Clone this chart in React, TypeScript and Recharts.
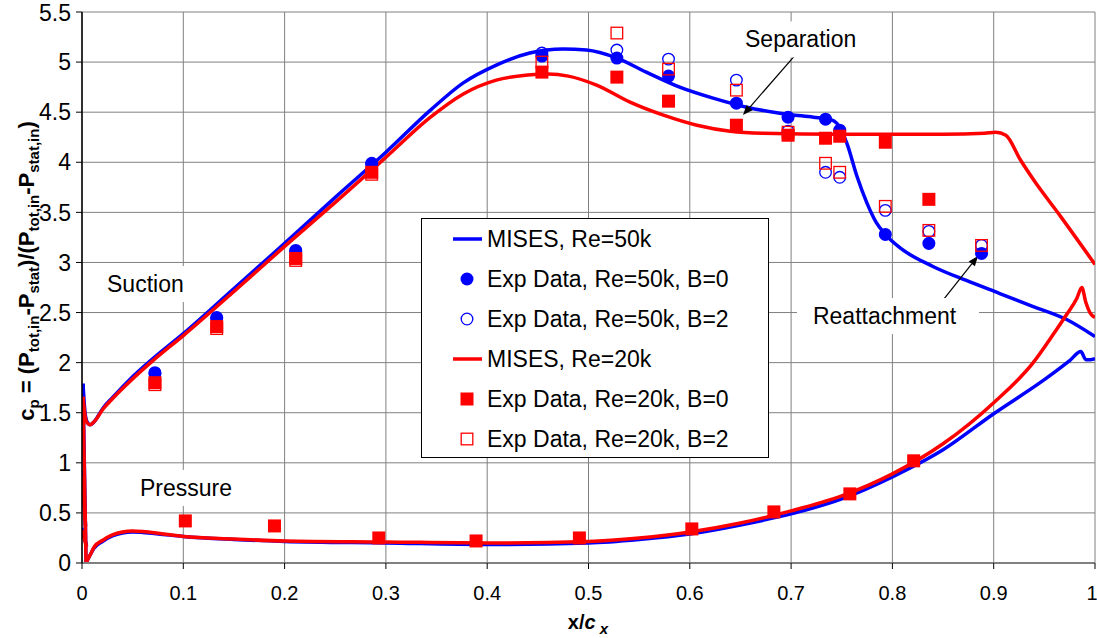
import React from 'react';
import {
  ComposedChart,
  Line,
  Scatter,
  XAxis,
  YAxis,
  CartesianGrid,
  Legend,
  ReferenceDot,
  ReferenceLine,
} from 'recharts';

const FONT = "'Liberation Sans', Arial, sans-serif";
const BLUE = '#0000ff';
const RED = '#ff0000';

const xTicks = [0, 0.1, 0.2, 0.3, 0.4, 0.5, 0.6, 0.7, 0.8, 0.9, 1];
const yTicks = [0, 0.5, 1, 1.5, 2, 2.5, 3, 3.5, 4, 4.5, 5, 5.5];

// MISES, Re=50k
const mises50kSuction = [
  { x: 0.001, y: 1.79 }, { x: 0.003, y: 1.5 }, { x: 0.005, y: 1.41 }, { x: 0.008, y: 1.38 },
  { x: 0.012, y: 1.41 }, { x: 0.021, y: 1.55 }, { x: 0.03, y: 1.65 }, { x: 0.047, y: 1.83 },
  { x: 0.07, y: 2.04 }, { x: 0.1, y: 2.29 }, { x: 0.15, y: 2.74 }, { x: 0.2, y: 3.19 },
  { x: 0.25, y: 3.65 }, { x: 0.3, y: 4.1 }, { x: 0.344, y: 4.52 }, { x: 0.376, y: 4.79 },
  { x: 0.409, y: 4.97 }, { x: 0.442, y: 5.09 }, { x: 0.475, y: 5.13 }, { x: 0.498, y: 5.12 },
  { x: 0.528, y: 5.04 }, { x: 0.557, y: 4.9 }, { x: 0.59, y: 4.75 }, { x: 0.623, y: 4.64 },
  { x: 0.656, y: 4.55 }, { x: 0.689, y: 4.49 }, { x: 0.722, y: 4.45 }, { x: 0.738, y: 4.43 },
  { x: 0.745, y: 4.39 }, { x: 0.75, y: 4.31 }, { x: 0.755, y: 4.19 }, { x: 0.765, y: 3.86 },
  { x: 0.775, y: 3.59 }, { x: 0.784, y: 3.4 }, { x: 0.793, y: 3.28 }, { x: 0.807, y: 3.15 },
  { x: 0.84, y: 2.96 }, { x: 0.873, y: 2.82 }, { x: 0.906, y: 2.69 }, { x: 0.939, y: 2.56 },
  { x: 0.972, y: 2.43 }, { x: 1.0, y: 2.26 },
];
const mises50kPressure = [
  { x: 0.004, y: 0.0 }, { x: 0.008, y: 0.08 }, { x: 0.012, y: 0.15 }, { x: 0.021, y: 0.22 },
  { x: 0.03, y: 0.27 }, { x: 0.04, y: 0.3 }, { x: 0.05, y: 0.31 }, { x: 0.06, y: 0.305 },
  { x: 0.08, y: 0.285 }, { x: 0.1, y: 0.265 }, { x: 0.15, y: 0.235 }, { x: 0.2, y: 0.215 },
  { x: 0.3, y: 0.2 }, { x: 0.4, y: 0.185 }, { x: 0.5, y: 0.2 }, { x: 0.55, y: 0.235 },
  { x: 0.6, y: 0.29 }, { x: 0.65, y: 0.38 }, { x: 0.7, y: 0.49 }, { x: 0.75, y: 0.64 },
  { x: 0.8, y: 0.86 }, { x: 0.85, y: 1.13 }, { x: 0.9, y: 1.49 }, { x: 0.95, y: 1.83 },
  { x: 0.975, y: 2.02 }, { x: 0.986, y: 2.11 }, { x: 0.991, y: 2.03 }, { x: 0.995, y: 2.03 },
  { x: 1.0, y: 2.04 },
];
const mises50kNose = [{ x: 0.001, y: 1.79 }, { x: 0.004, y: 0.0 }];
const mises50kNoseUpper = [{ x: 0.0, y: 0.92 }, { x: 0.002, y: 0.63 }, { x: 0.0035, y: 0.37 }];
const mises50kNoseLower = [{ x: 0.0, y: 0.35 }, { x: 0.0045, y: 0.17 }];

// MISES, Re=20k
const mises20kSuction = [
  { x: 0.001, y: 1.66 }, { x: 0.003, y: 1.47 }, { x: 0.005, y: 1.4 }, { x: 0.008, y: 1.38 },
  { x: 0.012, y: 1.41 }, { x: 0.021, y: 1.54 }, { x: 0.03, y: 1.64 }, { x: 0.047, y: 1.81 },
  { x: 0.07, y: 2.02 }, { x: 0.1, y: 2.27 }, { x: 0.15, y: 2.71 }, { x: 0.2, y: 3.16 },
  { x: 0.25, y: 3.6 }, { x: 0.3, y: 4.05 }, { x: 0.344, y: 4.45 }, { x: 0.376, y: 4.68 },
  { x: 0.409, y: 4.82 }, { x: 0.44, y: 4.87 }, { x: 0.46, y: 4.88 }, { x: 0.48, y: 4.86 },
  { x: 0.508, y: 4.77 }, { x: 0.541, y: 4.6 }, { x: 0.574, y: 4.47 }, { x: 0.607, y: 4.37 },
  { x: 0.64, y: 4.31 }, { x: 0.672, y: 4.29 }, { x: 0.75, y: 4.28 }, { x: 0.85, y: 4.28 },
  { x: 0.891, y: 4.29 }, { x: 0.902, y: 4.3 }, { x: 0.912, y: 4.27 }, { x: 0.926, y: 4.03 },
  { x: 0.939, y: 3.83 }, { x: 0.966, y: 3.46 }, { x: 1.0, y: 2.98 },
];
const mises20kPressure = [
  { x: 0.004, y: 0.0 }, { x: 0.008, y: 0.08 }, { x: 0.012, y: 0.16 }, { x: 0.021, y: 0.23 },
  { x: 0.03, y: 0.28 }, { x: 0.04, y: 0.31 }, { x: 0.05, y: 0.32 }, { x: 0.06, y: 0.315 },
  { x: 0.08, y: 0.29 }, { x: 0.1, y: 0.265 }, { x: 0.15, y: 0.24 }, { x: 0.2, y: 0.22 },
  { x: 0.3, y: 0.21 }, { x: 0.4, y: 0.2 }, { x: 0.5, y: 0.215 }, { x: 0.55, y: 0.25 },
  { x: 0.6, y: 0.31 }, { x: 0.65, y: 0.4 }, { x: 0.7, y: 0.52 }, { x: 0.75, y: 0.67 },
  { x: 0.8, y: 0.89 }, { x: 0.85, y: 1.19 }, { x: 0.9, y: 1.6 }, { x: 0.939, y: 2.0 },
  { x: 0.96, y: 2.3 }, { x: 0.972, y: 2.48 }, { x: 0.982, y: 2.64 }, { x: 0.987, y: 2.75 },
  { x: 0.991, y: 2.6 }, { x: 0.995, y: 2.5 }, { x: 1.0, y: 2.45 },
];
const mises20kNose = [{ x: 0.001, y: 1.66 }, { x: 0.004, y: 0.0 }];
const mises20kNoseUpper = [{ x: 0.0, y: 0.86 }, { x: 0.002, y: 0.6 }, { x: 0.0035, y: 0.36 }];
const mises20kNoseLower = [{ x: 0.0, y: 0.33 }, { x: 0.0045, y: 0.16 }];

// Experimental data
const exp50kB0 = [
  { x: 0.072, y: 1.9 }, { x: 0.133, y: 2.45 }, { x: 0.211, y: 3.12 }, { x: 0.286, y: 3.99 },
  { x: 0.454, y: 5.06 }, { x: 0.528, y: 5.04 }, { x: 0.579, y: 4.86 }, { x: 0.646, y: 4.59 },
  { x: 0.697, y: 4.45 }, { x: 0.734, y: 4.43 }, { x: 0.748, y: 4.32 }, { x: 0.793, y: 3.28 },
  { x: 0.836, y: 3.19 }, { x: 0.888, y: 3.09 },
];
const exp50kB2 = [
  { x: 0.072, y: 1.89 }, { x: 0.133, y: 2.44 }, { x: 0.211, y: 3.11 }, { x: 0.286, y: 3.98 },
  { x: 0.454, y: 5.09 }, { x: 0.528, y: 5.12 }, { x: 0.579, y: 5.03 }, { x: 0.646, y: 4.82 },
  { x: 0.697, y: 4.31 }, { x: 0.734, y: 3.9 }, { x: 0.748, y: 3.85 }, { x: 0.793, y: 3.52 },
  { x: 0.836, y: 3.31 }, { x: 0.888, y: 3.17 },
];
const exp20kB0 = [
  { x: 0.072, y: 1.8 }, { x: 0.133, y: 2.36 }, { x: 0.211, y: 3.04 }, { x: 0.286, y: 3.9 },
  { x: 0.454, y: 4.9 }, { x: 0.528, y: 4.85 }, { x: 0.579, y: 4.61 }, { x: 0.646, y: 4.37 },
  { x: 0.697, y: 4.27 }, { x: 0.734, y: 4.24 }, { x: 0.748, y: 4.26 }, { x: 0.793, y: 4.2 },
  { x: 0.836, y: 3.63 },
  { x: 0.102, y: 0.42 }, { x: 0.19, y: 0.37 }, { x: 0.293, y: 0.25 }, { x: 0.389, y: 0.22 },
  { x: 0.491, y: 0.25 }, { x: 0.602, y: 0.34 }, { x: 0.683, y: 0.51 }, { x: 0.758, y: 0.69 },
  { x: 0.821, y: 1.02 },
];
const exp20kB2 = [
  { x: 0.072, y: 1.78 }, { x: 0.133, y: 2.34 }, { x: 0.211, y: 3.02 }, { x: 0.286, y: 3.88 },
  { x: 0.454, y: 5.0 }, { x: 0.528, y: 5.29 }, { x: 0.579, y: 4.93 }, { x: 0.646, y: 4.72 },
  { x: 0.697, y: 4.3 }, { x: 0.734, y: 3.99 }, { x: 0.748, y: 3.9 }, { x: 0.793, y: 3.56 },
  { x: 0.836, y: 3.32 }, { x: 0.888, y: 3.17 },
];

// Annotations (data coordinates)
const annotations = [
  { text: 'Suction', x: 0.0247, y: 2.785, w: 80 },
  { text: 'Pressure', x: 0.0573, y: 0.75, w: 96 },
  { text: 'Separation', x: 0.6545, y: 5.226, w: 115 },
  { text: 'Reattachment', x: 0.7216, y: 2.465, w: 150 },
];
const arrows = [
  { from: { x: 0.7058, y: 5.09 }, to: { x: 0.6525, y: 4.471 } },
  { from: { x: 0.85, y: 2.625 }, to: { x: 0.8845, y: 3.064 } },
];

const legendItems = [
  { label: 'MISES, Re=50k', kind: 'line', color: BLUE },
  { label: 'Exp Data, Re=50k, B=0', kind: 'filledCircle', color: BLUE },
  { label: 'Exp Data, Re=50k, B=2', kind: 'openCircle', color: BLUE },
  { label: 'MISES, Re=20k', kind: 'line', color: RED },
  { label: 'Exp Data, Re=20k, B=0', kind: 'filledSquare', color: RED },
  { label: 'Exp Data, Re=20k, B=2', kind: 'openSquare', color: RED },
];

const FilledCircle = (p: any) => <circle cx={p.cx} cy={p.cy} r={6.5} fill={BLUE} />;
const OpenCircle = (p: any) => (
  <circle cx={p.cx} cy={p.cy} r={5.8} fill="none" stroke={BLUE} strokeWidth={1.3} />
);
const FilledSquare = (p: any) => (
  <rect x={p.cx - 6.5} y={p.cy - 6.5} width={13} height={13} fill={RED} />
);
const OpenSquare = (p: any) => (
  <rect x={p.cx - 5.8} y={p.cy - 5.8} width={11.6} height={11.6} fill="none" stroke={RED} strokeWidth={1.3} />
);

const LegendIcon = ({ kind, color }: { kind: string; color: string }) => {
  const cx = 45;
  const cy = 20;
  if (kind === 'line') return <line x1={31} y1={cy} x2={60} y2={cy} stroke={color} strokeWidth={3.5} />;
  if (kind === 'filledCircle') return <FilledCircle cx={cx} cy={cy} />;
  if (kind === 'openCircle') return <OpenCircle cx={cx} cy={cy} />;
  if (kind === 'filledSquare') return <FilledSquare cx={cx} cy={cy} />;
  return <OpenSquare cx={cx} cy={cy} />;
};

const LegendBox = () => (
  <div
    style={{
      width: 348,
      height: 240,
      border: '1px solid #000',
      background: '#fff',
      boxSizing: 'border-box',
      fontFamily: FONT,
      fontSize: 23,
      color: '#000',
    }}
  >
    {legendItems.map((it, i) => (
      <div key={i} style={{ height: 40, display: 'flex', alignItems: 'center' }}>
        <svg width={65} height={40} style={{ flex: 'none', display: 'block' }}>
          <LegendIcon kind={it.kind} color={it.color} />
        </svg>
        <span style={{ lineHeight: '40px', whiteSpace: 'nowrap' }}>{it.label}</span>
      </div>
    ))}
  </div>
);

const SUB = 15;
const YTitle = () => (
  <text
    x={0}
    y={0}
    transform="translate(34,271) rotate(-90)"
    textAnchor="middle"
    fontFamily={FONT}
    fontWeight="bold"
    fontSize={22}
    fill="#000"
  >
    c
    <tspan dy={5} fontSize={SUB}>p</tspan>
    <tspan dy={-5}>{' = (P'}</tspan>
    <tspan dy={5} fontSize={SUB}>tot,in</tspan>
    <tspan dy={-5}>-P</tspan>
    <tspan dy={5} fontSize={SUB}>stat</tspan>
    <tspan dy={-5}>)/(P</tspan>
    <tspan dy={5} fontSize={SUB}>tot,in</tspan>
    <tspan dy={-5}>-P</tspan>
    <tspan dy={5} fontSize={SUB}>stat,in</tspan>
    <tspan dy={-5}>)</tspan>
  </text>
);

const XTitle = () => (
  <text x={588} y={629} textAnchor="middle" fontFamily={FONT} fontWeight="bold" fontSize={20} fill="#000">
    x/
    <tspan fontStyle="italic">c</tspan>
    <tspan dy={5} fontSize={SUB} fontStyle="italic">{' x'}</tspan>
  </text>
);

const AnnotationShape = ({ cx, cy, text, w }: any) => (
  <g>
    <rect x={cx - 16} y={cy - 18} width={w + 32} height={36} fill="#fff" />
    <text x={cx} y={cy} dy="0.35em" fontFamily={FONT} fontSize={23} fill="#000">
      {text}
    </text>
  </g>
);

const ArrowShape = (p: any) => {
  const { x1, y1, x2, y2 } = p;
  const ang = Math.atan2(y2 - y1, x2 - x1);
  const len = 10;
  const half = 4;
  const bx = x2 - len * Math.cos(ang);
  const by = y2 - len * Math.sin(ang);
  const px = -Math.sin(ang) * half;
  const py = Math.cos(ang) * half;
  return (
    <g>
      <line x1={x1} y1={y1} x2={bx} y2={by} stroke="#000" strokeWidth={1.2} />
      <polygon points={`${x2},${y2} ${bx + px},${by + py} ${bx - px},${by - py}`} fill="#000" />
    </g>
  );
};

const lineCommon = {
  dataKey: 'y',
  dot: false,
  activeDot: false,
  isAnimationActive: false,
  strokeWidth: 3.5,
  legendType: 'none' as const,
};

export default function App() {
  return (
    <div style={{ position: 'absolute', left: 0, top: 0, background: '#fff' }}>
      <ComposedChart width={1097} height={638} margin={{ top: 12, right: 2, bottom: 0, left: 0 }}>
        <CartesianGrid stroke="#808080" strokeWidth={1} />
        <XAxis
          dataKey="x"
          type="number"
          domain={[0, 1]}
          ticks={xTicks}
          allowDataOverflow
          height={75}
          tickSize={6}
          tickMargin={17}
          tick={{ fill: '#000', fontSize: 20, fontFamily: FONT }}
          tickLine={{ stroke: '#000' }}
          axisLine={{ stroke: '#808080', strokeWidth: 2 }}
          tickFormatter={(v: number) => String(v)}
          label={{ content: () => <XTitle /> }}
        />
        <YAxis
          dataKey="y"
          type="number"
          domain={[0, 5.5]}
          ticks={yTicks}
          allowDataOverflow
          width={82}
          tickSize={6}
          tickMargin={5}
          tick={{ fill: '#000', fontSize: 23, fontFamily: FONT }}
          tickLine={{ stroke: '#000' }}
          axisLine={{ stroke: '#000', strokeWidth: 1.5 }}
          tickFormatter={(v: number) => String(v)}
          label={{ content: () => <YTitle /> }}
        />

        <Line {...lineCommon} data={mises50kSuction} type="monotone" stroke={BLUE} />
        <Line {...lineCommon} data={mises50kPressure} type="monotone" stroke={BLUE} />
        <Line {...lineCommon} data={mises50kNose} type="linear" stroke={BLUE} />
        <Line {...lineCommon} data={mises50kNoseUpper} type="linear" stroke={BLUE} />
        <Line {...lineCommon} data={mises50kNoseLower} type="linear" stroke={BLUE} />

        <Line {...lineCommon} data={mises20kSuction} type="monotone" stroke={RED} />
        <Line {...lineCommon} data={mises20kPressure} type="monotone" stroke={RED} />
        <Line {...lineCommon} data={mises20kNose} type="linear" stroke={RED} />
        <Line {...lineCommon} data={mises20kNoseUpper} type="linear" stroke={RED} />
        <Line {...lineCommon} data={mises20kNoseLower} type="linear" stroke={RED} />

        <Scatter data={exp50kB0} dataKey="y" isAnimationActive={false} shape={FilledCircle} legendType="none" />
        <Scatter data={exp50kB2} dataKey="y" isAnimationActive={false} shape={OpenCircle} legendType="none" />
        <Scatter data={exp20kB0} dataKey="y" isAnimationActive={false} shape={FilledSquare} legendType="none" />
        <Scatter data={exp20kB2} dataKey="y" isAnimationActive={false} shape={OpenSquare} legendType="none" />

        {annotations.map((a) => (
          <ReferenceDot
            key={a.text}
            x={a.x}
            y={a.y}
            r={0}
            ifOverflow="visible"
            shape={(p: any) => <AnnotationShape cx={p.cx} cy={p.cy} text={a.text} w={a.w} />}
          />
        ))}
        {arrows.map((ar, i) => (
          <ReferenceLine key={i} segment={[ar.from, ar.to]} ifOverflow="visible" shape={ArrowShape} />
        ))}

        <Legend
          layout="vertical"
          align="center"
          verticalAlign="middle"
          content={() => <LegendBox />}
          wrapperStyle={{ position: 'absolute', left: 421, top: 218, width: 348, height: 240 }}
        />
      </ComposedChart>
    </div>
  );
}
